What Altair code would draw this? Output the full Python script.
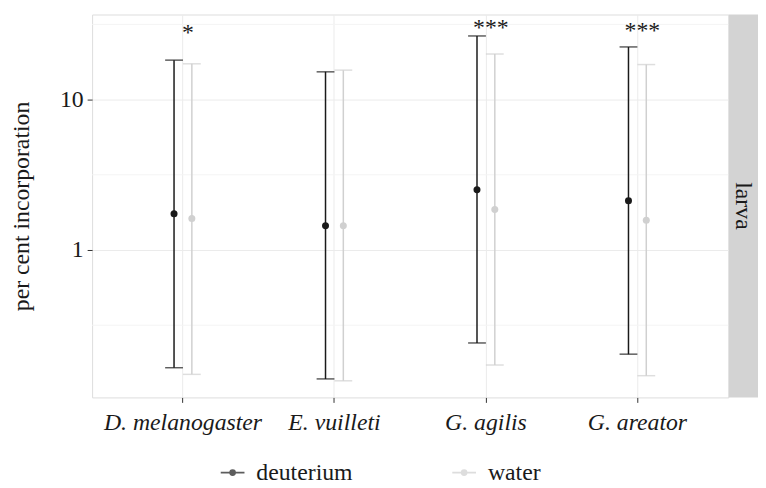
import altair as alt
import pandas as pd

species = ["D. melanogaster", "E. vuilleti", "G. agilis", "G. areator"]
series = ["deuterium", "water"]
deut_mean = [1.74, 1.45, 2.52, 2.13]
deut_lo = [0.165, 0.139, 0.241, 0.203]
deut_hi = [18.3, 15.3, 26.5, 22.4]
water_mean = [1.62, 1.45, 1.86, 1.575]
water_lo = [0.149, 0.135, 0.172, 0.146]
water_hi = [17.3, 15.7, 20.1, 17.1]

sig_species = ["D. melanogaster", "G. agilis", "G. areator"]
sig_text = ["*", "***", "***"]
sig_y = [25.0, 26.8, 25.6]

minor_breaks = [0.3162, 3.162, 31.62]
y_ticks = [1, 10]
stage = ["larva"]

rows = []
for i, s in enumerate(species):
    rows.append(dict(species=s, series="deuterium", mean=deut_mean[i], lo=deut_lo[i], hi=deut_hi[i]))
    rows.append(dict(species=s, series="water", mean=water_mean[i], lo=water_lo[i], hi=water_hi[i]))
df = pd.DataFrame(rows)
sig_df = pd.DataFrame({"species": sig_species, "label": sig_text, "y": sig_y})
minor_df = pd.DataFrame({"v": minor_breaks})
stage_df = pd.DataFrame({"stage": stage})

FONT = "Liberation Serif"
W, H = 643, 387

xscale = alt.Scale(domain=species, paddingInner=0, paddingOuter=0.1)
yscale = alt.Scale(type="log", domain=[0.1047, 36.8], nice=False, zero=False)
offscale = alt.Scale(domain=series, range=[58.5, 94.5], paddingInner=0, paddingOuter=0)

legend_path = "M-1,0H1M0.2,0A0.2,0.2,0,1,1,-0.2,0A0.2,0.2,0,1,1,0.2,0Z"

color = alt.Color(
    "series:N",
    scale=alt.Scale(domain=series, range=["#1a1a1a", "#d0d0d0"]),
    legend=alt.Legend(
        title=None, orient="none", legendX=129, legendY=450, direction="horizontal",
        symbolType=legend_path, symbolSize=576, symbolStrokeWidth=2,
        labelFont=FONT, labelFontSize=24, labelColor="#1a1a1a", labelOffset=11,
        columnPadding=96, padding=0,
    ),
)

xenc = alt.X(
    "species:N", scale=xscale, sort=species, title=None,
    axis=alt.Axis(
        labelFont=FONT, labelFontSize=24, labelFontStyle="italic", labelColor="#1a1a1a",
        labelPadding=8, tickSize=5, tickColor="#333333", domain=False, grid=True,
        gridColor="#ebebeb", bandPosition=0.5, labelAngle=0,
    ),
)
yenc = alt.Y(
    "lo:Q", scale=yscale, title="per cent incorporation",
    axis=alt.Axis(
        values=y_ticks, format="d", labelFont=FONT, labelFontSize=24, labelColor="#1a1a1a",
        labelPadding=4, tickSize=5, tickColor="#333333", domain=False, grid=True,
        gridColor="#ebebeb", titleFont=FONT, titleFontSize=24, titleFontWeight="normal",
        titleColor="#1a1a1a", titlePadding=26,
    ),
)
xoff = alt.XOffset("series:N", scale=offscale)

minor = alt.Chart(minor_df).mark_rule(color="#f4f4f4", strokeWidth=1).encode(
    y=alt.Y("v:Q", scale=yscale)
)

base = alt.Chart(df)
rules = base.mark_rule(strokeWidth=1.5).encode(x=xenc, xOffset=xoff, y=yenc, y2="hi:Q", color=color)
caps_lo = base.mark_tick(size=18, thickness=1.5).encode(x=xenc, xOffset=xoff, y=alt.Y("lo:Q", scale=yscale), color=color)
caps_hi = base.mark_tick(size=18, thickness=1.5).encode(x=xenc, xOffset=xoff, y=alt.Y("hi:Q", scale=yscale), color=color)
points = base.mark_point(filled=True, size=50, opacity=1).encode(
    x=xenc, xOffset=xoff, y=alt.Y("mean:Q", scale=yscale), color=color
)

sig = alt.Chart(sig_df).mark_text(font=FONT, fontSize=24, color="#1a1a1a", baseline="alphabetic", dx=5).encode(
    x=alt.X("species:N", scale=xscale, sort=species), y=alt.Y("y:Q", scale=yscale), text="label:N"
)

strip = alt.Chart(stage_df).mark_rect(color="#d3d3d3").encode(
    x=alt.value(W + 0.5), x2=alt.value(W + 30), y=alt.value(0), y2=alt.value(H)
)
strip_text = alt.Chart(stage_df).mark_text(font=FONT, fontSize=24, color="#1a1a1a", angle=90, baseline="middle").encode(
    x=alt.value(W + 15), y=alt.value(H / 2), text="stage:N"
)

chart = alt.layer(minor, rules, caps_lo, caps_hi, points, sig, strip, strip_text).properties(
    width=W, height=H, padding={"left": 85, "top": 4, "right": 30, "bottom": 92},
    autosize=alt.AutoSizeParams(type="none"), background="white"
).configure_view(stroke="#8c8c8c", strokeWidth=1).configure_legend(
    labelFont=FONT, labelFontSize=24, labelColor="#1a1a1a"
).configure(font=FONT)

chart.save("out.html", embed_options={"renderer": "svg", "actions": False})
